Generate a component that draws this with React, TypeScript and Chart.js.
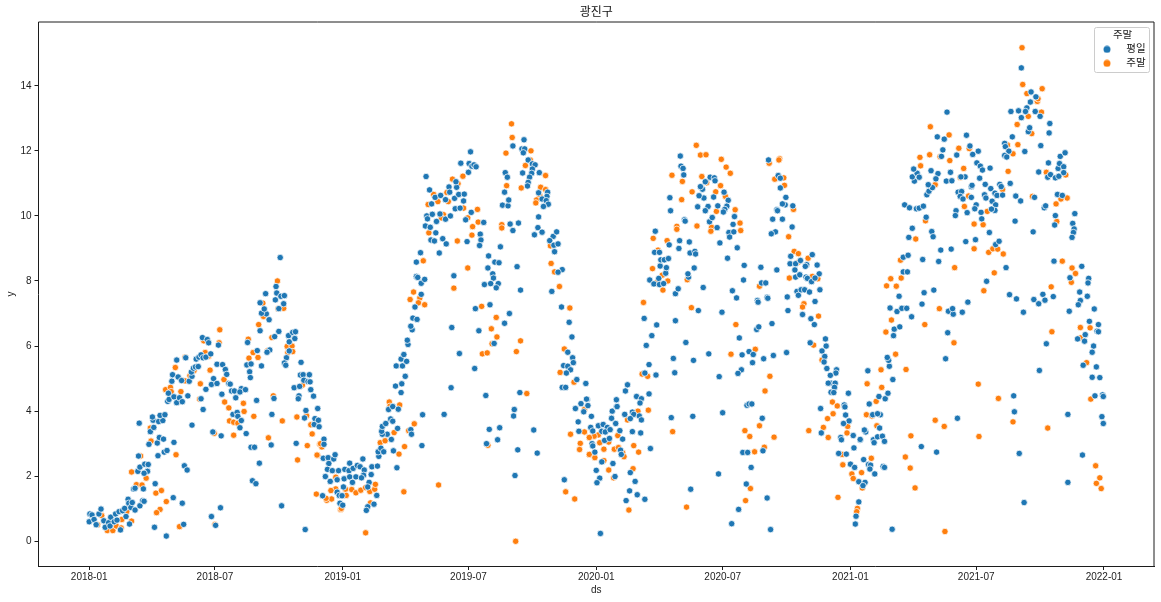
import React, { useEffect, useRef } from "react";
import { Chart, registerables } from "chart.js";

Chart.register(...registerables);

const CHART_TITLE = "광진구";
const X_TITLE = "ds";
const Y_TITLE = "y";
const LEGEND_TITLE = "주말";
const WEEKDAY_LABEL = "평일";
const WEEKEND_LABEL = "주말";
const BLUE = "#1f77b4";
const ORANGE = "#ff7f0e";

// Days since 2018-01-01, and the label of each x tick.
const xTickDays = [0, 181, 365, 546, 730, 912, 1096, 1277, 1461];
const xTickLabels = ["2018-01", "2018-07", "2019-01", "2019-07", "2020-01", "2020-07", "2021-01", "2021-07", "2022-01"];
const yTicks = [0, 2, 4, 6, 8, 10, 12, 14];

// [day since 2018-01-01, y]
const weekdayPoints: [number, number][] = [
[0,.6],[1,.84],[4,.81],[7,.67],[10,.51],[14,.84],[17,.99],[21,.63],[23,.43],[28,.57],[31,.74],[30,.47],[36,.6],[38,.84],[40,.65],[43,.91],[48,.94],[45,.35],[53,.76],[51,1.01],[56,1.29],[57,1.17],[58,.53],[60,1.04],[62,1.19],[66,.96],[73,1.09],[77,1.25],[79,1.23],[78,1.61],[64,1.61],[66,1.63],
[70,2.15],[73,2.28],[80,2.37],[85,2.36],[84,2.15],[79,2.09],[71,2.62],[99,2.63],[108,2.74],[112,2.79],[86,2.98],[98,3.02],[101,3.19],[107,3.14],[122,3.04],[88,3.37],[93,3.5],[72,3.63],[92,3.72],[91,3.82],[100,3.68],[106,3.71],[102,3.87],[109,3.89],
[95,1.77],[94,.43],[111,.16],[121,1.34],[134,1.17],[136,.52],[137,2.32],[141,2.19],[148,3.57],[164,4.05],[113,4.3],[115,4.36],[114,4.55],[122,4.44],[126,4.26],[130,4.41],[134,4.29],[142,4.47],[119,4.92],[120,5.12],[128,5.05],[133,4.94],[126,5.57],[139,5.64],[144,4.92],[148,5.07],[147,5.2],[150,5.32],[153,5.36],[157,5.37],[154,5.6],[158,5.66],[161,5.73],[164,5.64],[168,5.66],[175,5.76],[163,6.26],[170,6.2],[172,6.1],[186,6.03],
[161,4.38],[168,4.67],[176,4.82],[179,5],[184,4.85],[184,5.44],[192,5.43],[196,5.28],[198,5.13],[201,4.85],[203,4.83],[205,4.62],[209,4.62],[211,4.41],[219,4.69],[217,4.59],[225,4.66],[191,4.52],
[207,3.9],[213,3.96],[214,3.84],[219,3.71],[217,3.49],[226,3.31],[178,3.36],[190,3.24],[233,2.89],[238,2.89],[245,2.4],[235,1.86],[240,1.77],[189,1.03],[176,.76],[182,.49],
[228,6.11],[227,5.42],[233,5.45],[231,5.21],[232,5.03],[242,5.86],[248,5.39],[241,4.33],[263,3.9],[262,2.96],[266,4.39],[277,1.09],[311,.36],
[246,6.47],[259,6.81],[255,6.99],[248,7.01],[252,7.14],[246,7.33],[254,7.61],[269,7.83],[270,7.63],[268,7.42],[276,7.53],[281,7.55],[280,7.3],[273,7.15],[275,8.72],[273,6.45],[267,6.29],[260,5.88],[256,5.81],
[287,6.32],[288,6.13],[293,6.42],[297,6.44],[296,6.23],[288,5.85],[284,5.64],[281,5.48],[283,5.41],[305,5.5],[304,5.11],[308,5.12],[317,5.12],[309,4.95],[315,4.91],[318,4.9],[295,4.72],[303,4.76],[319,4.66],[302,4.47],[301,4.38],[323,4.46],[312,4.02],[329,4.08],[310,3.79],[325,3.77],[324,3.59],[330,3.72],[331,3.52],[298,3.01],
[338,3.14],[338,2.98],[337,2.55],[344,2.57],[352,2.53],[354,2.66],[345,2.39],[343,2.21],[350,2.17],[359,2.17],[368,2.21],[375,2.4],[374,2.17],[380,2.24],[386,2.33],[390,2.29],[394,2.53],[396,2.19],[407,2.29],[415,2.31],[406,2.05],[340,1.99],[347,1.84],[357,1.89],[367,1.92],[375,1.98],[379,1.81],[384,1.98],[395,2.03],[392,1.95],[403,1.81],[401,1.67],[357,1.51],[360,1.41],[364,1.4],[366,1.67],[336,1.4],[414,1.41],[361,1.17],[365,1.11],[410,1.14],[401,1.06],[399,.95],
[417,2.61],[416,2.75],[420,2.86],[424,2.75],[438,2.78],[443,2.26],[479,2.94],[435,3.13],[429,3.29],[422,3.29],[421,3.38],[422,3.53],[427,3.62],[434,3.76],[437,3.69],[444,3.47],[463,3.43],[464,3.29],[480,3.89],[511,3.9],[431,4.05],[437,4.14],[445,4.06],[449,4.57],[441,4.77],[450,4.84],[455,5.07],[442,5.39],[451,5.39],[449,5.6],[453,5.74],[457,5.53],[459,6.05],[458,6.18],[465,6.5],[463,6.61],[466,6.86],[472,6.82],[469,7.2],[478,7.59],[478,7.93],[483,8.05],[471,8.14],[473,8.11],[471,8.58],[477,8.87],
[484,9.69],[491,9.65],[486,10],[487,9.91],[494,10.05],[492,9.26],[497,9.23],[509,9.3],[514,9.14],[499,9.48],[504,8.86],[493,10.37],[498,10.57],[490,10.8],[485,11.21],[500,9.83],[506,10.63],[505,10.06],[513,9.9],[520,10],[518,10.89],[519,10.73],[513,10.5],[529,10.88],[528,11.05],[526,10.54],[532,10.66],[540,10.67],[539,10.46],[527,10.22],[534,10.24],[542,9.88],[550,10.11],[568,9.8],[544,9.21],[563,9.44],[564,9.26],[562,9.09],[535,11.62],[549,11.97],[547,11.61],[551,11.53],[554,11.57],[557,11.51],[546,11.34],
[525,8.16],[522,6.57],[533,5.77],[555,5.31],[521,4.72],[556,7.15],[561,6.47],[577,7.27],[598,6.7],[605,7],[583,6.08],[575,8.77],[584,8.58],[590,8.56],[574,8.4],[581,8.22],[582,8.09],[569,7.89],[578,7.92],[589,7.92],[586,7.79],[592,9.05],[616,8.44],[621,7.72],
[595,10.33],[603,10.31],[604,10.49],[598,10.73],[599,11.33],[602,11.19],[610,12.15],[606,9.75],[610,9.55],[618,9.78],[624,11.32],[623,12.06],[627,12.06],[626,12.34],[625,11.94],[632,11.72],[638,11.6],[642,11.57],[638,11.44],[648,11.33],[637,11.31],[634,11.19],[632,11.03],[631,10.92],[647,10.71],[660,10.73],[659,10.6],[652,10.52],[658,10.47],[661,10.36],[654,10.29],[647,9.97],[646,9.64],[652,9.5],[641,9.42],[668,9.37],[673,9.51],[663,9.24],[669,9.1],[675,9.14],[670,8.9],[681,8.35],[675,8.27],[666,7.68],[680,7.2],[691,6.73],[695,6.28],[689,5.81],[696,5.64],[697,5.49],[683,5.4],[689,5.38],[693,5.27],[687,5.17],[702,4.97],[715,4.85],[681,4.73],[686,4.73],
[704,3.67],[705,3.38],[700,4.08],[708,4.23],[717,4.36],[718,4.17],[712,3.98],[576,3.44],[591,3.49],[572,3],[588,3.12],[617,2.81],[640,3.42],[645,2.71],[613,2.02],[684,1.89],[571,4.48],[620,4.57],[612,4.05],[611,3.85],
[716,4.37],[718,4.17],[723,3.84],[722,3.5],[725,3.39],[733,3.55],[740,3.59],[746,3.5],[738,3.38],[743,3.36],[750,3.43],[758,3.62],[752,3.78],[753,4],[759,4.13],[760,4.14],[759,4.35],[772,4.62],[775,4.81],[788,4.45],[795,4.38],[793,4.25],[806,4.53],[771,3.9],[782,3.97],[784,3.9],[792,3.85],[795,3.73],[779,3.77],[764,3.4],[782,3.37],[794,3.33],[768,3.14],[742,3.1],[749,3.16],[724,3],[725,2.93],[728,2.74],[765,2.8],[766,2.67],[808,2.85],[738,2.44],[754,2.39],[730,2.18],[735,1.94],[731,1.8],[757,1.99],[779,2.11],[786,1.84],[778,1.55],[773,1.25],[789,1.43],[800,1.29],[736,.24],
[838,3.8],[869,3.84],[912,3.95],[906,2.07],[866,1.6],
[807,8.03],[813,7.91],[820,8.08],[821,7.89],[830,8.24],[827,7.92],[844,7.61],[848,7.76],[863,8.12],[862,8.22],[884,7.8],[822,8.46],[831,8.41],[823,8.65],[828,8.65],[834,8.69],[814,8.88],[821,8.88],[835,9.11],[849,9],[850,9.24],[864,9.2],[865,8.86],[872,8.91],[873,8.83],[871,8.4],[815,9.53],[837,10.16],[836,10.56],[857,9.88],[858,9.84],[851,11.84],[852,11.53],[855,11.46],[856,11.26],
[876,10.28],[885,10.55],[878,10.62],[883,10.82],[880,10.9],[887,11.05],[894,11.19],[900,11.17],[901,11.08],[899,10.58],[905,10.31],[914,10.73],[920,10.48],[918,10.3],[915,10.2],[913,10.12],[891,10.29],[887,10.16],[893,9.82],[897,9.95],[904,9.64],[908,9.17],[929,9.98],[927,9.74],[921,9.49],[928,9.51],[922,9.35],[933,9.02],[919,8.7],[943,8.48],[942,8.03],[967,8.42],[990,8.34],[926,7.7],[932,7.48],[877,7.09],[911,7.04],[968,7.94],[974,7.94],[962,7.4],[963,7.35],[976,7.5],[977,7.47],[961,6.51],[964,6.59],[983,6.69],[844,6.78],[817,6.65],[799,6.85],[810,6.32],[802,6.02],[859,6.11],[806,5.43],[800,5.17],[816,5.11],[841,5.62],[843,5.18],[870,5.56],[892,5.76],[907,5.06],[936,6.25],[940,5.73],[950,5.83],[956,5.74],[955,5.49],[939,5.27],[934,5.16],[971,5.61],[985,5.71],[1004,5.8],
[947,4.18],[950,4.22],[954,4.22],[969,3.78],[970,2.78],[941,2.73],[948,2.73],[953,2.27],[946,1.76],[976,1.33],[935,.98],[925,.54],[981,.36],
[978,11.72],[992,11.24],[995,11.16],[995,10.86],[1003,10.57],[1002,10.34],[998,10.37],[1013,10.31],[990,10.19],[991,10.16],[984,9.9],[998,9.9],[1012,9.66],[988,9.51],[982,9.45],
[1010,8.76],[1009,8.53],[1017,8.53],[1024,8.63],[1033,8.5],[1031,8.45],[1041,8.81],[1048,8.49],[1016,8.34],[1051,8.22],[1017,8.12],[1023,8.19],[1032,8.12],[1034,8.08],[1040,7.98],[1045,8.09],[1019,7.68],[1021,7.56],[1025,7.73],[1030,7.73],[1037,7.66],[1052,7.73],[1045,7.37],[1005,7.51],[1006,7.09],[1027,6.97],[1039,6.84],[1044,6.66],
[1060,6.22],[1061,6],[1055,5.85],[1059,5.68],[1058,5.51],[1038,6.1],[1062,5.31],[1076,5.27],[1075,5.17],[1067,5.1],[1068,4.86],[1064,4.86],[1074,4.86],[1073,4.73],[1068,4.58],[1072,4.57],[1093,4.55],[1087,4.19],[1088,4.13],[1053,4.08],[1089,3.88],[1094,3.7],[1086,3.62],[1054,3.33],[1100,3.25],[1082,3.19],[1083,3.12],[1110,3.11],[1101,2.87],[1079,2.7],[1090,2.68],[1096,2.37],[1102,2.27],[1108,1.83],[1108,1.21],[1104,.77],[1103,.53],
[1115,2.51],[1122,2.36],[1125,2.34],[1124,2.22],[1131,2.07],[1143,2.3],[1145,2.27],[1117,1.81],[1114,1.71],
[1110,3.13],[1118,3.36],[1116,3.42],[1129,3.12],[1130,3.03],[1135,3.21],[1142,3.23],[1145,3.07],[1138,3.48],[1128,3.89],[1139,3.89],[1135,3.92],[1123,4.22],[1137,4.45],[1146,4.38],[1150,4.55],[1157,4.97],[1152,5.38],[1151,5.56],[1149,5.65],[1121,5.24],[1158,6.32],[1159,6.52],[1167,6.59],[1184,6.9],[1153,7.17],[1163,7.06],[1170,7.16],[1177,7.16],[1166,7.53],[1199,7.29],[1202,7.64],[1216,7.72],[1236,6.41],[1233,5.61],[1250,3.78],[1220,2.74],[1198,2.91],[1156,.37],[1237,7.07],[1244,6.98],[1243,7.15],[1257,7.04],[1265,7.35],
[1172,8.28],[1178,8.28],[1172,8.73],[1179,8.79],[1200,8.66],[1223,8.6],[1226,8.95],[1241,8.98],[1180,9.34],[1185,9.62],[1205,9.96],[1213,9.52],[1215,9.36],[1262,9.21],[1276,9.27],[1296,9.49],[1305,9.12],[1310,9.22],
[1174,10.34],[1181,10.25],[1191,10.22],[1195,10.24],[1201,10.3],[1206,10.65],[1209,10.76],[1214,10.87],[1208,10.96],[1188,11.07],[1185,11.2],[1192,11.31],[1195,11.19],[1187,11.44],[1212,11.39],[1222,11.3],[1219,11.14],[1234,11.07],[1242,11.08],[1240,11.34],[1227,11.83],[1229,12.03],[1221,12.43],[1231,12.36],[1235,13.19],[1249,11.87],[1263,12.48],[1268,12.15],[1272,11.89],[1280,11.99],[1278,11.63],[1283,11.53],[1286,11.41],[1297,11.47],[1261,11.2],[1255,11.2],[1282,11.16],[1290,10.97],[1298,10.84],[1304,10.7],[1307,10.63],[1315,10.64],[1311,10.97],[1313,10.9],[1326,11],[1251,10.73],[1256,10.75],[1254,10.6],[1258,10.52],[1270,10.57],[1270,10.9],[1271,10.94],[1289,10.65],[1291,10.55],[1300,10.45],[1305,10.34],[1304,10.17],[1299,10.21],[1277,10.34],[1275,10.22],[1284,10.11],[1248,10.16],[1247,10.01],[1264,10.1],[1285,9.91],
[1318,12.23],[1319,12.13],[1324,11.99],[1318,11.86],[1321,11.81],[1329,12.43],[1347,11.98],[1352,12.59],[1354,12.71],[1370,12.16],[1382,12.55],[1383,12.84],[1327,13.21],[1338,13.23],[1342,13.02],[1350,13.32],[1348,13.21],[1362,13.21],[1369,13.06],[1355,13.5],[1356,13.81],[1363,13.66],[1342,14.55],
[1334,10.61],[1341,10.46],[1333,9.84],[1359,9.51],[1361,10.57],[1367,11.35],[1381,11.63],[1380,11.19],[1384,11.27],[1391,11.17],[1396,11.22],[1395,11.46],[1397,11.61],[1403,11.51],[1403,11.33],[1398,11.83],[1405,11.94],[1394,10.66],[1401,10.63],[1375,10.25],[1377,10.31],[1391,10.01],[1419,10.07],[1416,9.77],[1418,9.6],[1417,9.49],[1415,9.34],[1390,9.72],[1389,8.61],[1429,8.45],[1412,8.1],[1439,8.08],[1438,7.94],[1426,7.66],[1427,7.4],[1424,7.27],[1437,7.53],[1411,7.07],[1447,7.14],[1440,6.76],[1453,6.66],[1451,6.46],[1453,6.44],[1434,6.35],[1433,6.15],[1423,6.22],[1446,6],[1444,5.81],[1431,5.41],[1450,5.36],[1444,5.04],[1455,5.03],[1448,4.47],[1459,4.5],[1460,4.45],[1458,3.83],[1460,3.62],
[1320,8.41],[1292,7.99],[1325,7.58],[1335,7.45],[1360,7.43],[1373,7.59],[1376,7.41],[1367,7.3],[1388,7.52],[1345,7.04],[1378,6.07],[1368,5.25],[1331,4.47],[1332,3.98],[1409,3.9],[1339,2.7],[1430,2.65],[1409,1.81],[1346,1.19],
];

const weekendPoints: [number, number][] = [
[12,.51],[18,.79],[26,.33],[34,.33],[39,.47],[47,.67],[46,.41],[54,.91],[61,.62],[61,2.13],[74,2.62],[68,1.74],[76,1.73],[82,1.94],[96,1.48],[104,1.56],[111,1.22],[102,.98],[97,.88],[130,.45],[181,.52],[89,3.08],[88,3.48],[125,2.66],[110,4.66],[117,4.73],[118,4.6],[132,4.6],[124,5.34],[138,5.66],[138,4.93],[160,4.84],[159,4.37],[145,5.09],[151,5.25],[167,5.8],[165,6.16],[172,5.69],[188,6.5],[187,6.1],[174,5.26],[194,4.97],[195,4.28],[201,4.1],[202,3.7],[208,3.66],[214,3.63],[222,4.24],[223,3.99],[237,3.84],[180,3.32],[208,3.26],[229,6.21],[236,5.8],[230,5.63],[243,5.65],[257,5.86],[244,6.66],[263,6.26],[250,7.32],[251,6.91],[271,8],[272,7.15],[280,7.16],[265,4.47],[278,3.7],[258,3.18],[285,5.99],[292,6],[286,5.8],[293,5.83],[307,4.8],[299,3.82],[313,3.86],[321,3.3],[314,2.94],[300,2.5],[329,2.64],[327,1.45],[319,3.58],[332,2.98],
[355,1.97],[369,1.6],[355,1.61],[348,1.56],[378,1.59],[384,1.49],[391,1.57],[398,1.65],[404,1.53],[411,1.6],[412,1.75],[342,1.26],[349,1.3],[370,1.41],[341,1.32],[362,.98],[363,1.01],[405,1.18],[398,.26],[453,1.52],[503,1.73],[328,2.65],[335,2.9],[333,3],
[446,2.68],[454,2.91],[439,3.34],[460,3.4],[468,3.61],[419,3.03],[426,3.09],[432,4.28],[433,4.15],[447,4.19],
[462,7.43],[467,7.66],[476,7.48],[474,7.33],[483,7.27],[481,8.62],
[489,9.48],[488,10.35],[496,10.66],[502,10.44],[517,10.44],[515,10.72],[510,10.04],[507,9.94],[523,11.13],[531,10.99],[538,11.22],[539,10.24],[545,9.94],[559,10.2],[560,9.81],[552,9.67],[551,9.41],[530,9.23],[545,8.4],[525,7.78],[565,7.22],[586,6.88],[579,6.53],[587,6.28],[580,6.07],[566,5.76],[573,5.79],[621,6.16],[615,5.83],[630,4.54],[574,2.95],
[594,9.73],[594,9.63],[601,10.93],[622,10.86],[608,12.83],[609,12.41],[600,11.93],[628,11.55],[636,12],[635,11.72],[657,11.24],[650,10.88],[657,10.81],[649,10.61],[644,10.49],[643,10.4],[665,8.54],[664,9.08],[670,8.28],[677,7.83],[692,7.17],[684,5.91],[678,5.19],[698,4.89],
[693,3.29],[713,4.05],[713,3.36],[707,3.01],[706,2.82],[720,2.67],[720,3.19],[686,1.52],[699,1.3],[614,0],
[733,3.27],[727,3.23],[720,3.19],[735,3.03],[741,2.83],[748,3.05],[761,3.25],[756,2.83],[762,2.88],[768,2.72],[770,2.6],[720,2.67],[728,2.57],[741,2.48],[748,2.19],[755,1.95],[783,2.23],[784,2.94],[791,2.74],[777,.96],[775,3.73],[790,4],[805,4.03],[804,5.07],[796,5.14],[860,1.05],[840,3.37],
[798,7.34],[811,8.38],[825,8.18],[817,7.95],[833,8],[826,7.72],[819,8.95],[812,9.31],[832,9.24],[846,9.68],[846,9.59],[853,10.5],[839,11.25],[854,11.06],[861,8.04],[867,7.18],[868,10.74],[875,9.69],[874,12.17],[880,11.87],[888,11.88],[882,11.21],[889,11.02],[902,10.74],[909,10.93],[910,11.74],[917,11.5],[923,11.31],[916,10.6],[903,10.14],[896,9.65],[895,9.53],[930,10.19],[937,9.78],[938,9.55],[931,6.66],[924,5.75],[959,5.9],[965,7.84],[980,5.07],[973,4.62],[965,3.55],[944,3.4],[951,3.22],[986,3.2],[972,2.89],[958,2.75],[952,1.62],[945,1.25],
[979,11.62],[994,11.76],[993,11.72],[987,11.13],[1000,11.17],[1001,10.94],[1014,10.2],[1007,9.36],
[1015,8.91],[1021,8.84],[1035,8.7],[1021,8.58],[1008,8.09],[1041,8.14],[1049,8.07],[1029,7.3],[1027,7.2],[1050,6.92],[1043,6.03],[1055,5.57],[1070,4.28],[1077,4.16],[1071,3.92],[1063,3.77],[1057,3.5],[1036,3.4],[1064,3.19],[1092,3.53],[1091,3.33],[1084,2.67],[1085,2.35],[1098,2.07],[1100,1.93],[1078,1.35],[1106,1.01],[1105,.91],
[1126,2.55],[1112,2.11],[1113,1.64],[1189,1.64],[1182,2.25],[1175,2.59],[1183,3.24],[1134,3.55],[1119,3.89],[1127,3.85],[1133,4.3],[1141,4.73],[1120,4.84],[1140,5.27],[1176,5.28],[1161,5.75],[1147,6.43],[1155,6.8],[1203,6.66],[1245,6.1],[1224,7.15],[1148,7.85],[1162,7.84],[1154,8.07],[1169,8.09],[1168,8.64],[1246,8.41],[1190,9.29],[1204,9.85],[1218,3.72],[1231,3.53],[1281,3.22],[1280,4.83],[1309,4.39],[1330,3.67],[1380,3.48],[1232,.3],
[1274,9.75],[1287,9.73],[1274,8.99],[1295,8.88],[1301,8.99],[1308,8.98],[1316,8.83],[1303,8.25],[1288,7.7],[1260,10.29],[1293,10.14],[1266,10.61],[1315,10.81],[1218,10.96],[1254,11.18],[1259,11.46],[1323,11.37],[1197,11.54],[1196,11.8],[1210,11.88],[1225,11.82],[1239,11.7],[1252,12.08],[1267,12.07],[1238,12.49],[1211,12.74],
[1322,12.18],[1330,11.91],[1337,12.19],[1357,12.53],[1336,12.81],[1352,13.06],[1371,13.19],[1365,13.52],[1366,13.6],[1350,13.76],[1372,13.91],[1344,14.04],[1343,15.17],
[1358,10.6],[1378,11.34],[1406,11.26],[1408,10.55],[1399,10.52],[1392,10.37],[1393,9.83],[1401,8.61],[1415,8.4],[1420,8.23],[1414,7.96],[1385,7.82],[1427,6.57],[1441,6.56],[1386,6.44],[1427,6.25],[1436,5.49],[1442,4.37],[1449,2.32],[1455,1.95],[1450,1.78],[1457,1.62],
];

const FONT = "'Liberation Sans', 'Noto Sans CJK KR', sans-serif";
const INK = "#1c1c1c";

function dot(color: string) {
  const c = document.createElement("canvas");
  c.width = 8;
  c.height = 8;
  const g = c.getContext("2d")!;
  g.fillStyle = color;
  g.beginPath();
  g.arc(4, 4, 3.5, 0, Math.PI * 2);
  g.fill();
  return c;
}

const framePlugin = {
  id: "frame",
  afterLayout(chart: any) {
    const l = chart.legend;
    if (!l) return;
    const w = l.width;
    l.left = 1089.5;
    l.right = 1089.5 + w;
    l.top = 30;
    l.bottom = 30 + l.height;
  },
  beforeDraw(chart: any) {
    const g = chart.ctx;
    g.save();
    g.strokeStyle = "#cccccc";
    g.lineWidth = 1;
    g.beginPath();
    g.roundRect(1094.5, 27.5, 55, 45, 2);
    g.stroke();
    g.restore();
  },
  afterDraw(chart: any) {
    const g = chart.ctx;
    const a = chart.chartArea;
    g.save();
    g.strokeStyle = INK;
    g.lineWidth = 1;
    g.beginPath();
    g.moveTo(a.left, a.top);
    g.lineTo(a.right, a.top);
    g.lineTo(a.right, a.bottom);
    g.stroke();
    g.restore();
  },
};

export default function App() {
  const ref = useRef<HTMLCanvasElement>(null);
  useEffect(() => {
    const marker = { pointRadius: 3.2, pointBorderWidth: 0.75, pointBorderColor: "#ffffff", pointHoverRadius: 3.2 };
    const chart = new Chart(ref.current!, {
      type: "scatter",
      plugins: [framePlugin],
      data: {
        datasets: [
          { label: WEEKDAY_LABEL, data: weekdayPoints.map(([x, y]) => ({ x, y })), backgroundColor: BLUE, ...marker },
          { label: WEEKEND_LABEL, data: weekendPoints.map(([x, y]) => ({ x, y })), backgroundColor: ORANGE, ...marker },
        ],
      },
      options: {
        animation: false,
        responsive: false,
        layout: { padding: { left: 0, right: 7, top: 0, bottom: 0 } },
        plugins: {
          title: {
            display: true,
            text: CHART_TITLE,
            fullSize: false,
            color: "#111",
            font: { family: FONT, size: 12, weight: "normal" },
            padding: { top: 5.5, bottom: 2.1 },
          },
          tooltip: { enabled: false },
          legend: {
            display: true,
            position: "chartArea",
            align: "start",
            title: {
              display: true,
              text: LEGEND_TITLE,
              color: INK,
              font: { family: FONT, size: 10.5 },
              padding: { top: 0, bottom: -2 },
            },
            labels: {
              color: INK,
              font: { family: FONT, size: 10.5 },
              usePointStyle: true,
              pointStyleWidth: 28,
              padding: 3.5,
              generateLabels: () => [
                { text: WEEKDAY_LABEL, fillStyle: BLUE, strokeStyle: BLUE, lineWidth: 0, pointStyle: dot(BLUE), datasetIndex: 0 },
                { text: WEEKEND_LABEL, fillStyle: ORANGE, strokeStyle: ORANGE, lineWidth: 0, pointStyle: dot(ORANGE), datasetIndex: 1 },
              ],
            },
          },
        },
        scales: {
          x: {
            type: "linear",
            min: -73,
            max: 1533,
            afterFit: (a: any) => { a.height = 36; },
            afterBuildTicks: (a: any) => { a.ticks = xTickDays.map((value) => ({ value })); },
            title: { display: true, text: X_TITLE, color: INK, font: { family: FONT, size: 10 }, padding: { top: 0, bottom: 6 } },
            grid: { display: true, drawOnChartArea: false, drawTicks: true, tickLength: 4, tickColor: INK, tickWidth: 1 },
            border: { display: true, color: INK, width: 1 },
            ticks: {
              autoSkip: false,
              maxRotation: 0,
              padding: 1,
              color: INK,
              font: { family: FONT, size: 10 },
              callback: (v: any) => xTickLabels[xTickDays.indexOf(Number(v))] ?? "",
            },
          },
          y: {
            type: "linear",
            min: -0.76,
            max: 15.96,
            afterFit: (a: any) => { a.width = 38.5; },
            afterBuildTicks: (a: any) => { a.ticks = yTicks.map((value) => ({ value })); },
            title: { display: true, text: Y_TITLE, color: INK, font: { family: FONT, size: 10 }, padding: { top: 5, bottom: 0 } },
            grid: { display: true, drawOnChartArea: false, drawTicks: true, tickLength: 4, tickColor: INK, tickWidth: 1 },
            border: { display: true, color: INK, width: 1 },
            ticks: { padding: 3, color: INK, font: { family: FONT, size: 10 }, callback: (v: any) => String(v) },
          },
        },
      },
    } as any);
    return () => chart.destroy();
  }, []);
  return (
    <div style={{ position: "fixed", left: 0, top: 0, width: 1161, height: 602, background: "#fff" }}>
      <canvas ref={ref} width={1161} height={602} style={{ display: "block" }} />
    </div>
  );
}
